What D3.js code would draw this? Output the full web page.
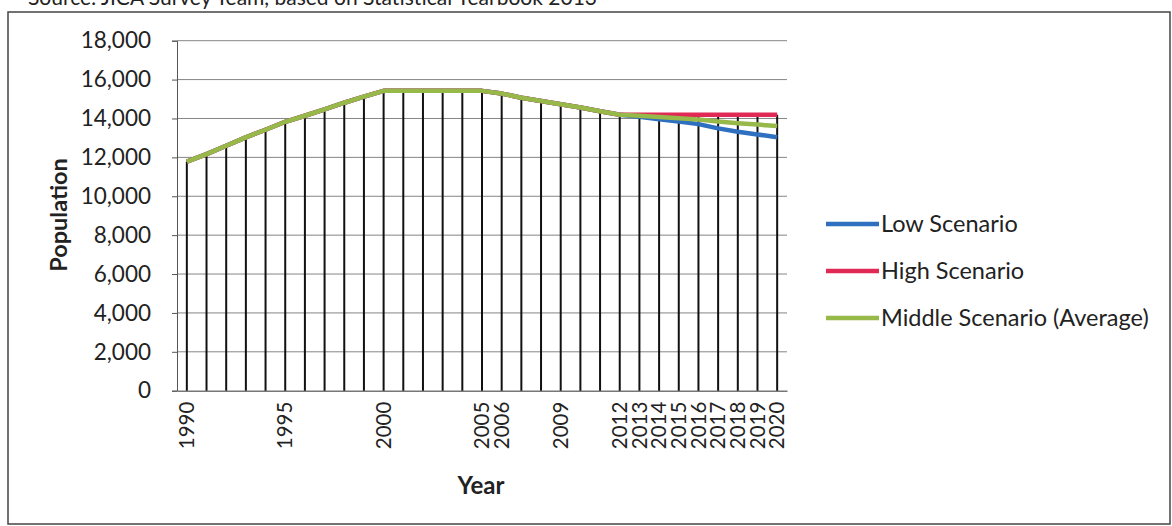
<!DOCTYPE html>
<html>
<head>
<meta charset="utf-8">
<script src="https://cdn.jsdelivr.net/npm/d3@7/dist/d3.min.js"></script>
<style>
  html, body { margin: 0; padding: 0; background: #fff; }
  svg { display: block; }
  text { font-family: Lato, "Open Sans", sans-serif; fill: #222; }
</style>
</head>
<body>
<svg id="chart" width="1172" height="526"></svg>
<script>
// Years on the category axis
const years = ["1990","1991","1992","1993","1994","1995","1996","1997","1998","1999",
  "2000","2001","2002","2003","2004","2005","2006","2007","2008","2009",
  "2010","2011","2012","2013","2014","2015","2016","2017","2018","2019","2020"];

// Only these years carry a printed label
const labelledYears = ["1990","1995","2000","2005","2006","2009",
  "2012","2013","2014","2015","2016","2017","2018","2019","2020"];

// Population by scenario (historic values are shared)
const lowScenario = [11780, 12170, 12600, 13030, 13420, 13830, 14140, 14470, 14810, 15120,
  15420, 15420, 15420, 15420, 15420, 15420, 15280, 15070, 14900, 14730,
  14560, 14370, 14190, 14090, 13960, 13840, 13710, 13490, 13320, 13180, 13030];
const highScenario = [11780, 12170, 12600, 13030, 13420, 13830, 14140, 14470, 14810, 15120,
  15420, 15420, 15420, 15420, 15420, 15420, 15280, 15070, 14900, 14730,
  14560, 14370, 14190, 14190, 14190, 14190, 14190, 14190, 14190, 14190, 14190];
const middleScenario = [11780, 12170, 12600, 13030, 13420, 13830, 14140, 14470, 14810, 15120,
  15420, 15420, 15420, 15420, 15420, 15420, 15280, 15070, 14900, 14730,
  14560, 14370, 14190, 14140, 14075, 14015, 13950, 13840, 13755, 13685, 13610];

const yTicks = [0, 2000, 4000, 6000, 8000, 10000, 12000, 14000, 16000, 18000];

const seriesNames = ["Low Scenario", "High Scenario", "Middle Scenario (Average)"];
const seriesColors = ["#2f6fbf", "#e02a55", "#96b94a"];
const seriesValues = [lowScenario, highScenario, middleScenario];

const svg = d3.select("#chart");

// Outer frame and the source note above it
svg.append("text")
  .attr("x", 28).attr("y", 5)
  .style("font-size", "21px")
  .text("Source: JICA Survey Team, based on Statistical Yearbook 2013");
svg.append("rect")
  .attr("x", 8).attr("y", 12).attr("width", 1162).attr("height", 512)
  .attr("fill", "none").attr("stroke", "#444").attr("stroke-width", 1.5);

const plot = { left: 177, right: 787, top: 40.7, bottom: 390.7 };

const x = d3.scaleBand().domain(years).range([plot.left, plot.right]);
const y = d3.scaleLinear().domain([0, 18000]).range([plot.bottom, plot.top]);
const cx = d => x(d) + x.bandwidth() / 2;

// Horizontal gridlines
svg.append("g")
  .selectAll("line")
  .data(yTicks.filter(t => t > 0))
  .join("line")
  .attr("x1", plot.left).attr("x2", plot.right)
  .attr("y1", d => y(d)).attr("y2", d => y(d))
  .attr("stroke", "#858585").attr("stroke-width", 1);

// Y axis
const yAxis = svg.append("g")
  .attr("transform", `translate(${plot.left},0)`)
  .call(d3.axisLeft(y).tickValues(yTicks).tickSize(5).tickPadding(21)
    .tickFormat(d3.format(",")));
yAxis.select(".domain").attr("stroke", "#555");
yAxis.selectAll(".tick line").attr("stroke", "#555");
yAxis.selectAll(".tick text")
  .style("font-size", "22.5px").style("font-family", "Lato, sans-serif").attr("fill", "#222");

// X axis
const xAxis = svg.append("g")
  .attr("transform", `translate(0,${plot.bottom})`)
  .call(d3.axisBottom(x).tickSize(0).tickPadding(0)
    .tickFormat(d => labelledYears.includes(d) ? d : ""));
xAxis.select(".domain").attr("stroke", "#777").attr("stroke-width", 1.5);
xAxis.selectAll(".tick text")
  .attr("transform", "rotate(-90)")
  .attr("x", -11).attr("y", 0).attr("dy", "0.35em")
  .style("text-anchor", "end")
  .style("font-size", "20.5px").style("font-family", "Lato, sans-serif").attr("fill", "#222");

// Drop lines from the highest scenario point down to the axis
svg.append("g")
  .selectAll("line")
  .data(years)
  .join("line")
  .attr("x1", d => cx(d)).attr("x2", d => cx(d))
  .attr("y1", (d, i) => y(d3.max(seriesValues, s => s[i])))
  .attr("y2", y(0))
  .attr("stroke", "#111").attr("stroke-width", 2);

// Scenario lines
const line = d3.line().x((d, i) => cx(years[i])).y(d => y(d));
seriesValues.forEach((vals, k) => {
  svg.append("path")
    .datum(vals)
    .attr("d", line)
    .attr("fill", "none")
    .attr("stroke", seriesColors[k])
    .attr("stroke-width", 4.5)
    .attr("stroke-linejoin", "round");
});

// Axis titles
svg.append("text")
  .attr("transform", "translate(67,215) rotate(-90)")
  .attr("text-anchor", "middle")
  .style("font-size", "23.5px").style("font-weight", "bold")
  .text("Population");
svg.append("text")
  .attr("x", 481).attr("y", 494)
  .attr("text-anchor", "middle")
  .style("font-size", "24px").style("font-weight", "bold")
  .text("Year");

// Legend
const legend = svg.append("g");
seriesNames.forEach((name, k) => {
  const ly = 224 + k * 47;
  legend.append("line")
    .attr("x1", 826).attr("x2", 879).attr("y1", ly).attr("y2", ly)
    .attr("stroke", seriesColors[k]).attr("stroke-width", 4.5);
  legend.append("text")
    .attr("x", 881).attr("y", ly).attr("dy", "0.35em")
    .style("font-size", "23.5px")
    .text(name);
});
</script>
</body>
</html>
